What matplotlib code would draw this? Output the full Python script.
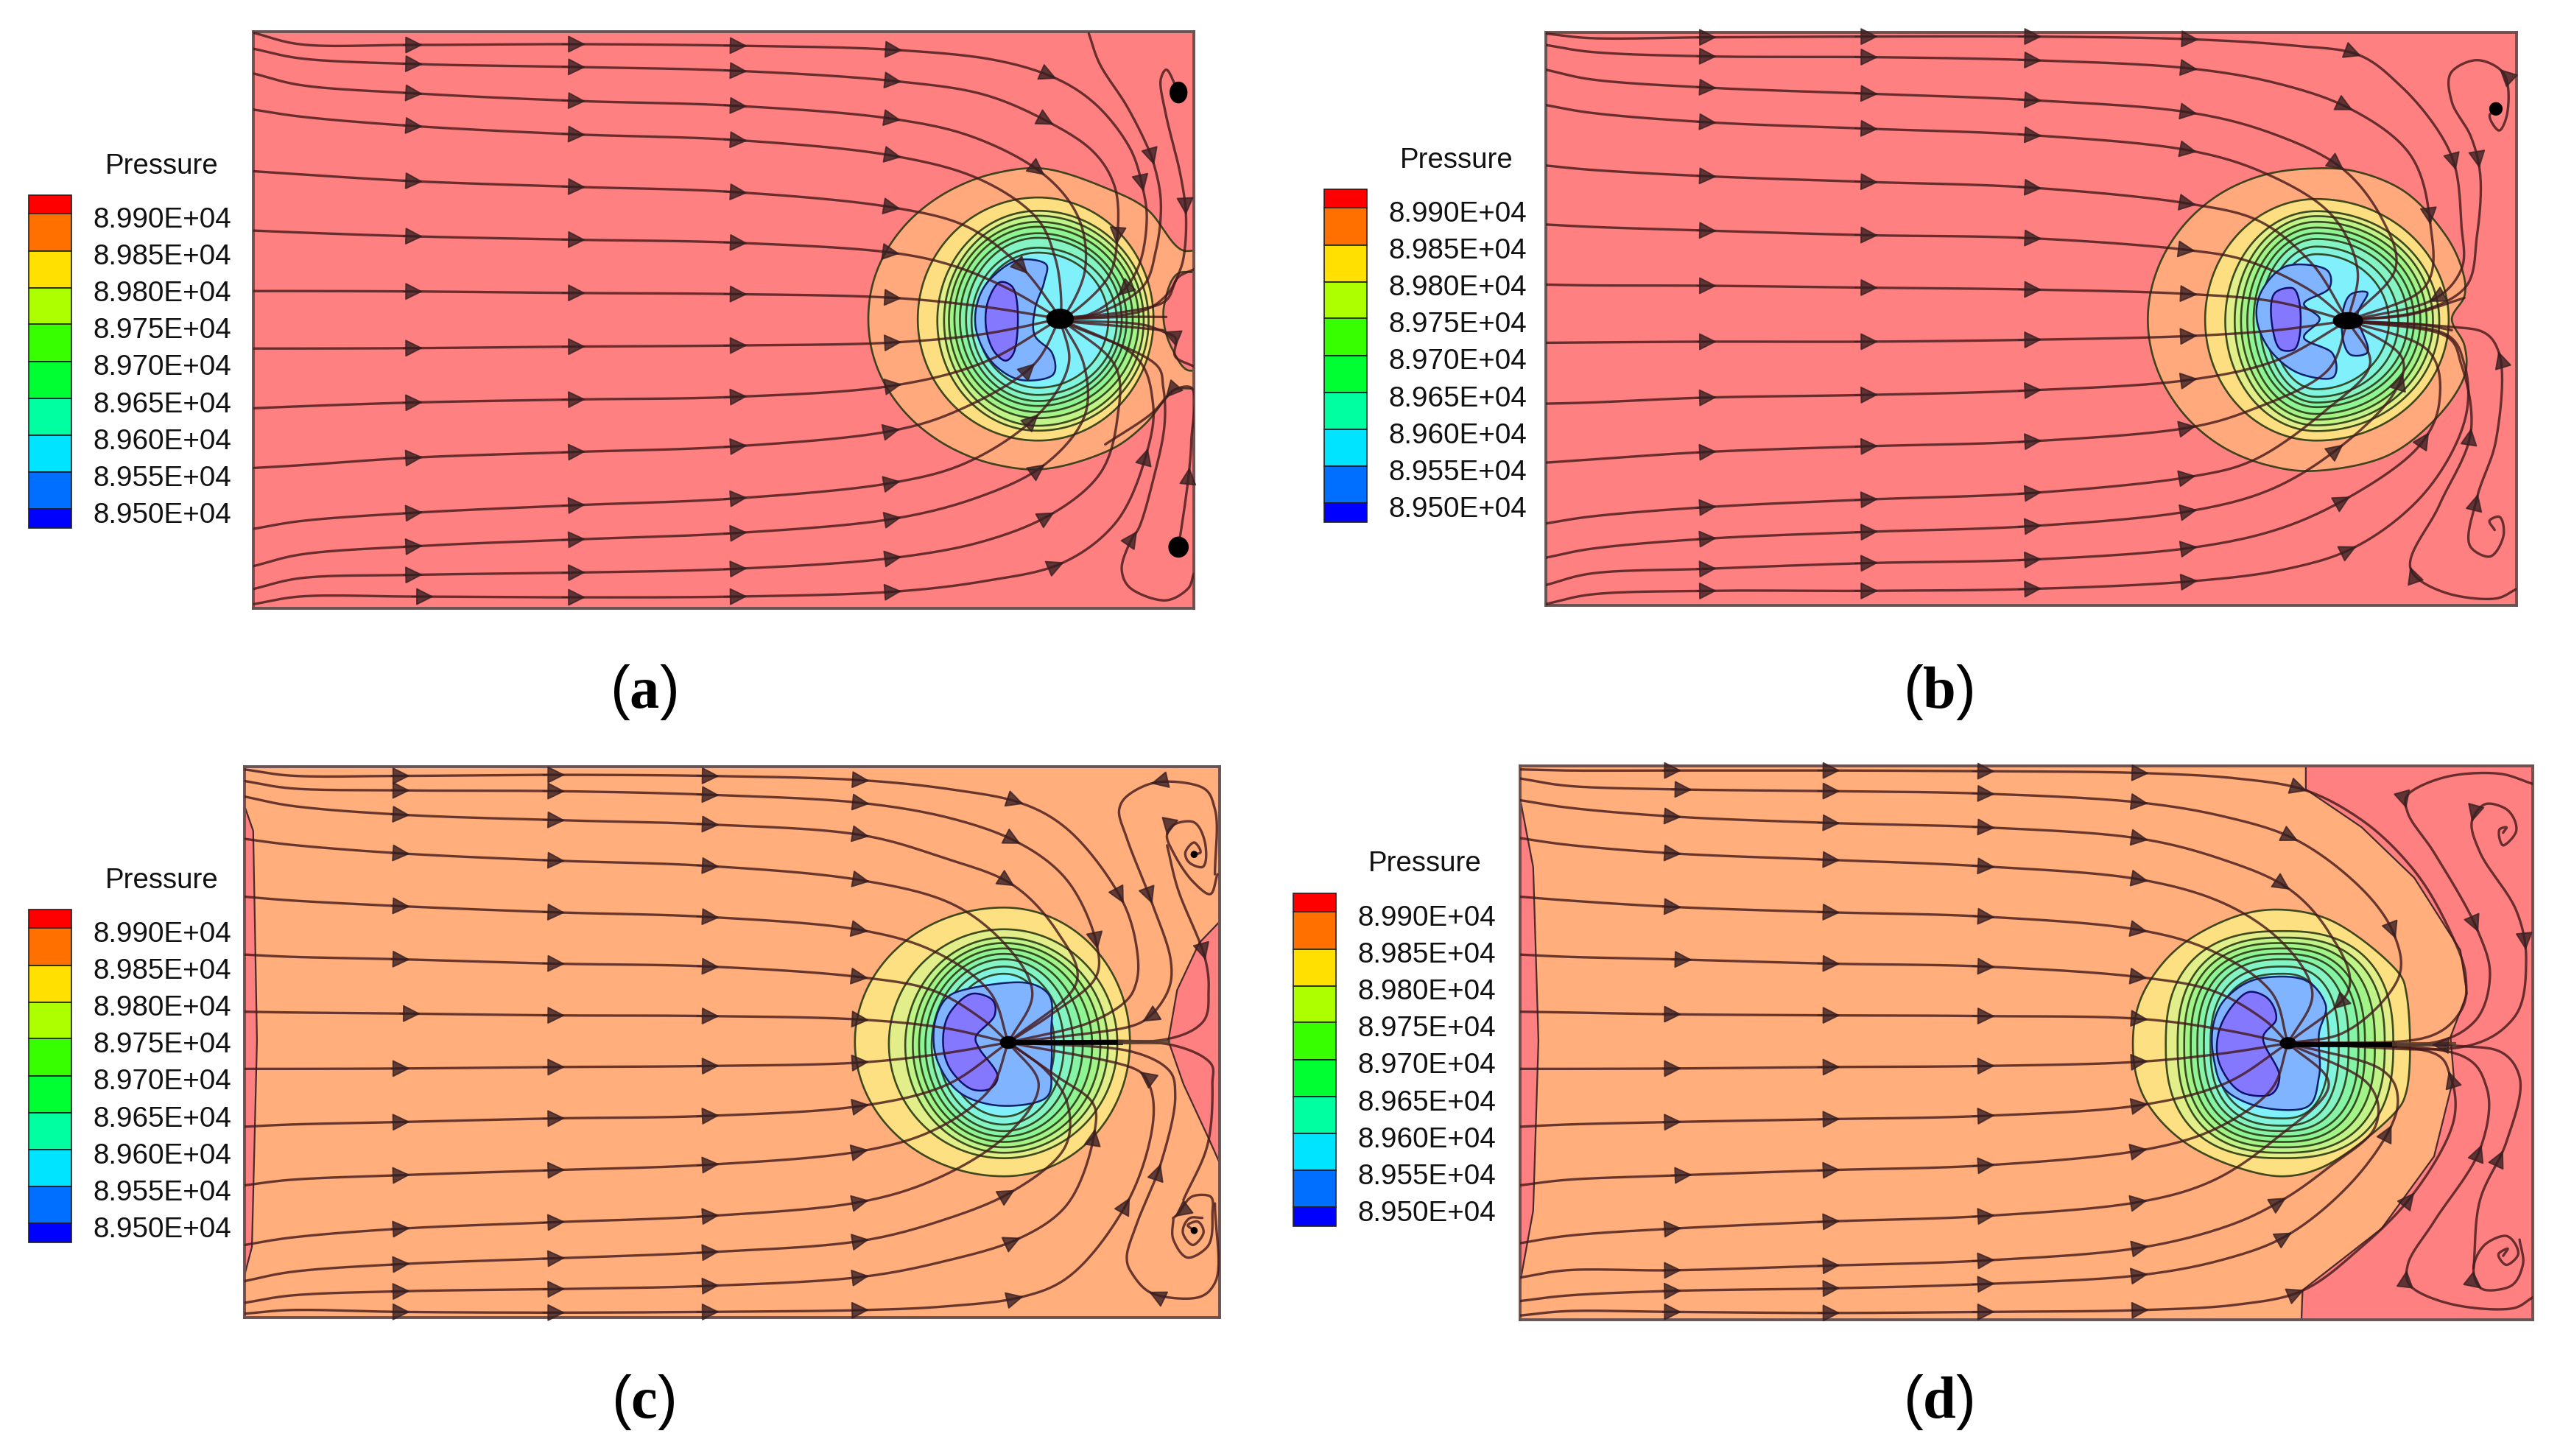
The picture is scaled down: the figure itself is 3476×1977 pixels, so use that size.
#!/usr/bin/env python
import numpy as np
import matplotlib
matplotlib.use('Agg')
import matplotlib.pyplot as plt

W, H, DPI = 3476, 1977, 200
plt.rcParams['font.family'] = ['Liberation Sans', 'DejaVu Sans']
plt.rcParams['mathtext.fontset'] = 'custom'
plt.rcParams['mathtext.rm'] = 'Liberation Serif'
plt.rcParams['mathtext.bf'] = 'Liberation Serif:bold'

# legend
legend_labels = ['8.990E+04', '8.985E+04', '8.980E+04', '8.975E+04', '8.970E+04',
                 '8.965E+04', '8.960E+04', '8.955E+04', '8.950E+04']
legend_colors = ['#FF0000', '#FF7000', '#FFE000', '#ADFF00', '#38FF00',
                 '#00FF32', '#00FFA0', '#00E4FF', '#006EFF', '#0000FF']
legend_edges = [0, 25, 76, 126, 175, 226, 276, 326, 376, 426, 452]

# field colours
pink = '#FF8080'
orange = '#FFAE7C'
yellow = '#FDE682'
blue = '#80B4FF'
violet = '#8478FF'
ring_colors = ['#DFF08A', '#BDF58A', '#9FF58A', '#8CF596', '#86F5AA',
               '#84F5C8', '#80F5E0', '#80F0FF']

# ---- panel a ----
a_cols = [5, 80, 265, 530, 795, 1055]
a_rows = [[28, 58, 60, 58, 62, 73], [70, 95, 110, 118, 128, 155], [135, 165, 187, 207, 220, 255],
          [230, 248, 273, 295, 310, 352], [392, 400, 418, 433, 447, 488], [548, 553, 563, 572, 580, 607],
          [707, 707, 708, 712, 715, 725], [858, 858, 857, 853, 850, 842], [1015, 1010, 1000, 992, 985, 955],
          [1172, 1165, 1145, 1130, 1115, 1073], [1332, 1312, 1290, 1270, 1252, 1210],
          [1430, 1400, 1378, 1360, 1343, 1305], [1490, 1462, 1453, 1447, 1437, 1408],
          [1530, 1510, 1510, 1512, 1510, 1497]]
a_tails = [[(1220, 100), (1315, 145), (1380, 210), (1440, 330), (1462, 440), (1468, 520), (1455, 640), (1427, 710), (1371, 770)],
           [(1200, 190), (1310, 265), (1380, 340), (1415, 430), (1420, 560), (1405, 670), (1345, 765)],
           [(1180, 300), (1295, 395), (1355, 510), (1367, 650), (1338, 760)],
           [(1190, 410), (1285, 510), (1318, 620), (1328, 740)],
           [(1170, 535), (1260, 640), (1310, 740)],
           [(1150, 640), (1240, 700)],
           [(1200, 748)],
           [(1200, 820)],
           [(1200, 895)],
           [(1160, 1020), (1280, 905)],
           [(1170, 1160), (1285, 1040), (1340, 900)],
           [(1190, 1250), (1295, 1170), (1365, 1040), (1365, 900)],
           [(1200, 1365), (1310, 1295), (1390, 1190), (1420, 1040), (1415, 900)],
           [(1200, 1470), (1325, 1425), (1415, 1320), (1470, 1120), (1478, 1000), (1450, 880)]]
a_extra_lines = [[(1373, 30), (1391, 110), (1435, 220), (1467, 320), (1479, 370), (1491, 470), (1483, 600), (1459, 700), (1379, 770), (1326, 780)],
                 [(1520, 185), (1500, 125), (1491, 150), (1499, 240), (1523, 400), (1532, 500), (1530, 600), (1523, 650), (1499, 720), (1459, 760), (1326, 782)],
                 [(1545, 1450), (1535, 1490), (1499, 1520), (1443, 1490), (1427, 1440), (1443, 1360), (1455, 1330), (1479, 1200), (1497, 1060), (1495, 960), (1483, 900), (1326, 785)],
                 [(1520, 1380), (1532, 1250), (1538, 1170), (1541, 1100), (1540, 960), (1515, 965), (1475, 1030), (1400, 1110)],
                 [(1545, 905), (1515, 880), (1515, 830), (1497, 815), (1460, 795), (1326, 785)],
                 [(1326, 778), (1430, 762), (1497, 735), (1520, 670), (1545, 650)],
                 [(1326, 782), (1430, 775), (1500, 775)],
                 [(1326, 786), (1430, 800), (1495, 810)]]
a_arrows = [(1315, 145), (1310, 265), (1295, 395), (1415, 580), (1462, 440), (1479, 370), (1530, 500),
            (1285, 650), (1285, 905), (1285, 1040), (1295, 1170), (1310, 1295), (1325, 1425), (1460, 1130),
            (1452, 1340), (1532, 1175), (1500, 985), (1425, 715), (1498, 815)]
a_orange = [(1012, 780), (1021, 678), (1049, 582), (1093, 501), (1151, 438), (1218, 398), (1298, 385), (1407, 440), (1467, 490),
            (1527, 600), (1560, 600), (1560, 655), (1520, 660), (1497, 740), (1497, 800), (1510, 860),
            (1535, 915), (1560, 915), (1560, 960), (1515, 965), (1499, 990), (1463, 1060), (1407, 1125),
            (1298, 1175), (1218, 1162), (1151, 1122), (1093, 1059), (1049, 978), (1021, 882)]
a_rings = [[1093, 1479, 461, 1100], [1125, 1471, 496, 1074], [1136, 1463, 509, 1061], [1144, 1455, 525, 1041],
           [1153, 1445, 538, 1025], [1162, 1435, 555, 1009], [1172, 1427, 567, 996], [1181, 1419, 593, 980],
           [1190, 1405, 606, 961]]
a_blue = [[(1259, 625), (1302, 635), (1300, 683), (1285, 754), (1285, 825), (1313, 870), (1313, 929),
           (1263, 941), (1220, 903), (1190, 819), (1190, 741), (1211, 677)]]
a_violet = [(1229, 683), (1248, 696), (1250, 870), (1237, 890), (1220, 870), (1205, 806), (1209, 729)]
a_blobs = [(1520, 185, 26, 52), (1520, 1380, 30, 50), (1326, 780, 42, 48)]

# ---- panel b ----
b_cols = [10, 80, 265, 520, 780, 1035]
b_rows = [[30, 42, 40, 38, 38, 45], [60, 78, 90, 92, 100, 122], [125, 150, 172, 188, 205, 238],
          [218, 238, 263, 280, 297, 338], [377, 388, 405, 420, 435, 478], [532, 538, 548, 560, 568, 600],
          [690, 692, 693, 698, 703, 715], [843, 842, 840, 840, 835, 825], [1003, 1000, 987, 980, 968, 940],
          [1158, 1150, 1130, 1115, 1102, 1065], [1318, 1300, 1275, 1255, 1238, 1195],
          [1408, 1385, 1358, 1340, 1325, 1285], [1480, 1450, 1437, 1422, 1413, 1382],
          [1530, 1505, 1495, 1495, 1490, 1470]]
b_tails = [[(1200, 62), (1300, 85), (1370, 170), (1430, 290), (1455, 380), (1465, 530), (1465, 650), (1420, 730)],
           [(1170, 160), (1285, 225), (1380, 340), (1415, 520), (1405, 700)],
           [(1160, 290), (1272, 380), (1340, 520), (1360, 650)],
           [(1150, 395), (1255, 500), (1300, 650)],
           [(1140, 520), (1225, 630)],
           [(1120, 625), (1220, 700)],
           [(1170, 735)],
           [(1170, 810)],
           [(1170, 890)],
           [(1130, 1020), (1250, 920)],
           [(1130, 1155), (1250, 1020), (1320, 900)],
           [(1160, 1230), (1270, 1120), (1360, 970), (1370, 880)],
           [(1170, 1335), (1280, 1255), (1395, 1120), (1430, 1000), (1410, 860)],
           [(1180, 1440), (1290, 1385), (1400, 1250), (1470, 1050), (1470, 900), (1440, 820)]]
b_extra_lines = [[(1522, 228), (1510, 245), (1525, 285), (1538, 240), (1530, 130), (1490, 100), (1450, 130), (1450, 210),
                  (1480, 300), (1495, 400), (1490, 560), (1470, 700), (1400, 760), (1285, 785)],
                 [(1518, 1335), (1510, 1310), (1525, 1300), (1532, 1350), (1510, 1405), (1480, 1380), (1490, 1250),
                  (1520, 1100), (1525, 870), (1500, 815), (1440, 800), (1285, 785)],
                 [(1553, 1490), (1520, 1515), (1440, 1500), (1385, 1440), (1430, 1270), (1480, 1080), (1465, 900), (1440, 825), (1285, 785)],
                 [(1285, 782), (1380, 770), (1470, 725)],
                 [(1285, 788), (1400, 795), (1450, 810)]]
b_arrows = [(1300, 85), (1285, 225), (1272, 380), (1455, 380), (1490, 380), (1415, 520), (1410, 720), (1530, 125),
            (1525, 870), (1430, 1090), (1480, 1080), (1495, 1250), (1365, 930), (1270, 1120), (1280, 1255),
            (1290, 1385), (1385, 1440)]
b_orange = [(967, 782), (976, 680), (1002, 584), (1043, 501), (1096, 438), (1158, 399), (1225, 385), (1290, 390), (1370, 440), (1440, 560),
            (1468, 660), (1470, 720), (1450, 780), (1470, 850), (1470, 930), (1420, 1050), (1340, 1145),
            (1225, 1180), (1158, 1165), (1096, 1126), (1043, 1063), (1002, 980), (976, 884)]
b_rings = [[1058, 1445, 465, 1100], [1090, 1430, 497, 1075], [1105, 1420, 510, 1060], [1115, 1410, 525, 1045],
           [1125, 1400, 540, 1030], [1135, 1390, 555, 1012], [1145, 1380, 570, 1000], [1155, 1365, 590, 985],
           [1165, 1350, 610, 965]]
b_blue = [[(1190, 640), (1250, 650), (1255, 700), (1215, 740), (1240, 780), (1215, 830), (1260, 870),
           (1260, 935), (1210, 925), (1165, 870), (1140, 780), (1150, 700)],
          [(1290, 715), (1315, 710), (1300, 770), (1315, 870), (1290, 875), (1275, 800)]]
b_violet = [(1170, 710), (1198, 700), (1200, 860), (1180, 862), (1167, 820)]
b_blobs = [(1520, 228, 18, 30), (1285, 785, 45, 40)]

# ---- panel c ----
c_cols = [8, 80, 255, 500, 745, 990]
c_rows = [[30, 47, 48, 45, 48, 60], [62, 82, 88, 90, 100, 123], [105, 130, 155, 170, 182, 212],
          [222, 238, 262, 282, 297, 337], [382, 392, 408, 425, 438, 475], [542, 548, 555, 567, 575, 605],
          [700, 702, 705, 710, 712, 722], [858, 858, 857, 853, 850, 840], [1018, 1012, 1005, 995, 988, 960],
          [1180, 1165, 1152, 1138, 1123, 1085], [1345, 1325, 1300, 1282, 1265, 1225],
          [1445, 1420, 1398, 1382, 1365, 1333], [1505, 1485, 1473, 1467, 1458, 1433],
          [1535, 1525, 1530, 1532, 1530, 1525]]
c_tails = [[(1130, 85), (1240, 122), (1312, 190), (1402, 390), (1427, 540), (1425, 620), (1409, 670), (1351, 730)],
           [(1130, 165), (1235, 230), (1312, 330), (1363, 520), (1359, 610), (1296, 700)],
           [(1120, 275), (1225, 345), (1300, 480), (1330, 620)],
           [(1130, 400), (1220, 520), (1260, 650)],
           [(1100, 530), (1190, 640)],
           [(1100, 640), (1180, 720)],
           [(1120, 745)],
           [(1120, 815)],
           [(1120, 905)],
           [(1100, 1030), (1190, 920)],
           [(1110, 1160), (1220, 1040), (1270, 900)],
           [(1120, 1275), (1225, 1200), (1310, 1080), (1315, 950), (1280, 860)],
           [(1120, 1390), (1235, 1330), (1312, 1240), (1359, 1030), (1355, 950), (1300, 880)],
           [(1120, 1515), (1240, 1490), (1312, 1440), (1410, 1230), (1452, 1000), (1445, 900), (1425, 860)]]
c_extra_lines = [[(1550, 320), (1550, 140), (1530, 80), (1460, 65), (1413, 100), (1398, 140), (1410, 220), (1448, 390),
                  (1480, 560), (1476, 640), (1445, 715), (1417, 740), (1300, 770), (1222, 785)],
                 [(1517, 265), (1527, 260), (1517, 232), (1503, 260), (1511, 290), (1530, 300), (1534, 230), (1515, 175),
                  (1488, 180), (1474, 210), (1484, 260), (1515, 340), (1542, 375), (1554, 320)],
                 [(1474, 240), (1491, 360), (1534, 550), (1540, 640), (1530, 730), (1476, 775), (1222, 785)],
                 [(1517, 1305), (1507, 1290), (1522, 1280), (1532, 1310), (1515, 1345), (1499, 1310), (1511, 1270), (1530, 1270)],
                 [(1484, 1270), (1484, 1330), (1507, 1380), (1538, 1350), (1546, 1260), (1542, 1210), (1515, 1210), (1491, 1260), (1484, 1270)],
                 [(1500, 1220), (1538, 1070), (1546, 900), (1542, 840), (1476, 790), (1222, 785)],
                 [(1550, 1230), (1550, 1450), (1523, 1490), (1452, 1480), (1417, 1420), (1410, 1380), (1425, 1290), (1464, 1120),
                  (1487, 930), (1476, 860), (1417, 810), (1222, 785)]]
c_arrows = [(1240, 122), (1235, 230), (1225, 345), (1405, 390), (1448, 385), (1365, 520), (1474, 210), (1535, 550),
            (1450, 65), (1435, 725), (1430, 870), (1360, 1030), (1225, 1200), (1235, 1330), (1240, 1490), (1410, 1230),
            (1465, 1130), (1490, 1270), (1445, 1480)]
c_red = [[(-10, 130), (8, 130), (22, 200), (28, 780), (20, 1350), (8, 1430), (-10, 1430)],
         [(1580, 450), (1558, 450), (1525, 510), (1490, 640), (1476, 780), (1500, 900), (1540, 1050), (1558, 1120), (1580, 1120)]]
c_rings = [[978, 1415, 412, 1155], [1032, 1395, 472, 1105], [1058, 1380, 495, 1090], [1070, 1368, 510, 1075],
           [1080, 1355, 525, 1060], [1090, 1340, 540, 1045], [1100, 1325, 555, 1030], [1110, 1310, 575, 1012],
           [1122, 1295, 595, 990]]
c_blue = [[(1150, 640), (1250, 620), (1285, 650), (1290, 760), (1290, 850), (1280, 940), (1210, 960), (1150, 930),
           (1110, 840), (1105, 730), (1125, 660)]]
c_violet = [(1165, 650), (1195, 665), (1200, 710), (1170, 770), (1175, 800), (1205, 880), (1190, 915), (1165, 915),
            (1130, 860), (1118, 780), (1130, 700)]
c_blobs = [(1222, 785, 24, 30), (1517, 265, 8, 14), (1517, 1305, 8, 14)]
c_jet = [1222, 1400, 1476, 785]

# ---- panel d ----
d_cols = [10, 80, 240, 480, 715, 955]
d_rows = [[30, 33, 33, 33, 35, 40], [55, 75, 85, 90, 97, 122], [115, 135, 160, 178, 190, 222],
          [220, 238, 262, 280, 298, 335], [382, 392, 410, 425, 437, 475], [542, 548, 555, 567, 575, 605],
          [700, 702, 707, 710, 712, 720], [858, 858, 857, 853, 850, 838], [1018, 1012, 1005, 997, 988, 958],
          [1180, 1165, 1153, 1138, 1125, 1083], [1340, 1320, 1300, 1280, 1265, 1225],
          [1435, 1415, 1415, 1402, 1388, 1352], [1500, 1485, 1472, 1465, 1453, 1428],
          [1540, 1528, 1530, 1533, 1530, 1525]]
d_tails = [[(1100, 55), (1200, 85), (1290, 170), (1370, 310), (1425, 480), (1448, 600), (1440, 700), (1390, 770)],
           [(1080, 160), (1185, 220), (1290, 360), (1340, 490), (1345, 610), (1260, 760)],
           [(1080, 280), (1175, 355), (1240, 480), (1270, 640)],
           [(1080, 400), (1170, 510), (1215, 650)],
           [(1060, 530), (1150, 640)],
           [(1060, 640), (1140, 720)],
           [(1080, 750)],
           [(1080, 815)],
           [(1080, 900)],
           [(1060, 1030), (1150, 920)],
           [(1060, 1170), (1160, 1050), (1240, 900)],
           [(1090, 1290), (1170, 1220), (1240, 1130), (1310, 1020), (1300, 900)],
           [(1080, 1385), (1175, 1320), (1290, 1140), (1345, 950), (1320, 860)],
           [(1100, 1510), (1195, 1475), (1290, 1350), (1370, 1200), (1430, 1000), (1425, 880), (1400, 815)]]
d_extra_lines = [[(1550, 70), (1500, 42), (1420, 50), (1360, 100), (1360, 150), (1400, 260), (1465, 470), (1485, 600), (1460, 730), (1400, 785), (1178, 787)],
                 [(1505, 205), (1510, 190), (1500, 195), (1505, 240), (1525, 200), (1510, 140), (1480, 125), (1458, 170), (1470, 260),
                  (1525, 420), (1540, 560), (1520, 720), (1450, 795), (1178, 787)],
                 [(1505, 1375), (1512, 1355), (1498, 1370), (1510, 1400), (1528, 1370), (1510, 1320), (1480, 1340), (1460, 1410),
                  (1475, 1468), (1515, 1460), (1535, 1400), (1530, 1330)],
                 [(1460, 1410), (1470, 1220), (1510, 1060), (1530, 880), (1500, 810), (1440, 795), (1178, 787)],
                 [(1550, 1490), (1520, 1520), (1430, 1510), (1365, 1460), (1360, 1400), (1400, 1280), (1470, 1080), (1480, 910), (1440, 820), (1178, 787)]]
d_arrows = [(1200, 85), (1185, 220), (1175, 355), (1340, 490), (1360, 135), (1465, 470), (1535, 520), (1465, 170),
            (1240, 680), (1320, 1030), (1175, 1220), (1175, 1320), (1195, 1475), (1360, 1215), (1470, 1080), (1530, 1100),
            (1470, 1465), (1365, 1420), (1410, 790), (1410, 870)]
d_red = [[(-10, 110), (10, 110), (30, 300), (38, 780), (30, 1250), (10, 1450), (-10, 1450)],
         [(1205, 0), (1205, 85), (1290, 190), (1370, 330), (1440, 530), (1450, 650), (1425, 770), (1430, 880), (1400, 1100),
          (1320, 1300), (1200, 1470), (1198, 1570), (1570, 1570), (1570, 0)]]
d_yellow = [(942, 785), (960, 640), (1020, 510), (1110, 430), (1170, 418), (1240, 445), (1345, 590), (1358, 650), (1358, 920),
            (1340, 980), (1230, 1130), (1170, 1155), (1100, 1130), (1020, 1060), (960, 940)]
d_rings = [[992, 1338, 477, 1105], [1010, 1325, 495, 1090], [1020, 1310, 510, 1075], [1030, 1295, 525, 1060],
           [1040, 1285, 540, 1045], [1050, 1270, 555, 1030], [1060, 1255, 575, 1015], [1068, 1240, 595, 995]]
d_blue = [[(1130, 610), (1200, 610), (1235, 680), (1225, 760), (1225, 880), (1205, 965), (1140, 965), (1085, 920),
           (1065, 830), (1065, 730), (1085, 660)]]
d_violet = [(1120, 645), (1145, 660), (1160, 720), (1140, 770), (1165, 880), (1150, 930), (1110, 925), (1075, 850),
            (1072, 760), (1095, 680)]
d_blobs = [(1178, 787, 22, 28)]
d_jet = [1178, 1340, 1430, 790]


def smooth(pts, closed=False, steps=14):
    # centripetal catmull-rom through the points
    p = np.array(pts, dtype=float)
    if closed:
        p = np.vstack([p[-1], p, p[0], p[1]])
    else:
        p = np.vstack([2 * p[0] - p[1], p, 2 * p[-1] - p[-2]])
    out = []
    for i in range(1, len(p) - 2):
        p0, p1, p2, p3 = p[i - 1], p[i], p[i + 1], p[i + 2]
        t0 = 0.0
        t1 = t0 + max(np.hypot(*(p1 - p0)), 1e-6) ** 0.5
        t2 = t1 + max(np.hypot(*(p2 - p1)), 1e-6) ** 0.5
        t3 = t2 + max(np.hypot(*(p3 - p2)), 1e-6) ** 0.5
        t = np.linspace(t1, t2, steps, endpoint=False)[:, None]
        a1 = (t1 - t) / (t1 - t0) * p0 + (t - t0) / (t1 - t0) * p1
        a2 = (t2 - t) / (t2 - t1) * p1 + (t - t1) / (t2 - t1) * p2
        a3 = (t3 - t) / (t3 - t2) * p2 + (t - t2) / (t3 - t2) * p3
        b1 = (t2 - t) / (t2 - t0) * a1 + (t - t0) / (t2 - t0) * a2
        b2 = (t3 - t) / (t3 - t1) * a2 + (t - t1) / (t3 - t1) * a3
        out.append((t2 - t) / (t2 - t1) * b1 + (t - t1) / (t2 - t1) * b2)
    out = np.vstack(out)
    if not closed:
        out = np.vstack([out, p[-2]])
    return out


def ring_path(ring, cu, n):
    left, right, top, bottom = ring
    cv = (top + bottom) / 2
    th = np.linspace(0, 2 * np.pi, 181)
    c, s = np.cos(th), np.sin(th)
    x = cu + np.where(c > 0, right - cu, cu - left) * np.sign(c) * np.abs(c) ** (2 / n)
    y = cv + (bottom - top) / 2 * np.sign(s) * np.abs(s) ** (2 / n)
    return x, y


def draw_panel(crop, frame, bg, cols, rows, tails, sink, extra_lines, arrows, cu, n, rings, blue_polys, violet_poly,
               blobs, outer=None, outer_color=orange, red=None, jet=None, first_ring_color=yellow):
    cx, cy, cw, ch = crop
    u0, u1, v0, v1 = frame
    x0 = cx + u0 / 1568 * cw
    x1 = cx + u1 / 1568 * cw
    y0 = cy + v0 / 1568 * ch
    y1 = cy + v1 / 1568 * ch
    ax = fig.add_axes([x0 / W, 1 - y1 / H, (x1 - x0) / W, (y1 - y0) / H])
    ax.set_xlim(u0, u1)
    ax.set_ylim(v1, v0)
    ax.set_facecolor(bg)
    ax.set_xticks([])
    ax.set_yticks([])
    for sp in ax.spines.values():
        sp.set_color('#6a5252')
        sp.set_linewidth(1.4)
    edge = dict(edgecolor='#2a3a14', linewidth=0.95, alpha=0.9)
    if red:
        for poly in red:
            xy = np.array(poly)
            ax.fill(xy[:, 0], xy[:, 1], facecolor=pink, edgecolor='#4a2a2a', linewidth=0.8, zorder=1)
    if outer:
        xy = smooth(outer, closed=True)
        ax.fill(xy[:, 0], xy[:, 1], facecolor=outer_color, zorder=2, **edge)
    order = ring_colors if len(rings) == 8 else [first_ring_color] + ring_colors
    for ring, col in zip(rings, order):
        x, y = ring_path(ring, cu, n)
        ax.fill(x, y, facecolor=col, zorder=3, **edge)
    for poly in blue_polys:
        xy = smooth(poly, closed=True)
        ax.fill(xy[:, 0], xy[:, 1], facecolor=blue, zorder=4, edgecolor='#10206a', linewidth=0.9)
    xy = smooth(violet_poly, closed=True)
    ax.fill(xy[:, 0], xy[:, 1], facecolor=violet, zorder=5, edgecolor='#10106a', linewidth=0.9)

    curves = []
    for row, tail in zip(rows, tails):
        pts = list(zip(cols, row)) + tail + [sink]
        curves.append(smooth(pts))
    for line in extra_lines:
        curves.append(smooth(line))
    for xy in curves:
        ax.plot(xy[:, 0], xy[:, 1], color='#44181a', lw=1.2, alpha=0.8, zorder=6, solid_capstyle='round')

    if jet:
        ax.plot([jet[0], jet[1]], [jet[3], jet[3]], color='black', lw=2.4, zorder=7)
        ax.plot([jet[1], jet[2]], [jet[3], jet[3]], color='#5a4030', lw=2.2, alpha=0.85, zorder=7)

    heads = []
    for xy in curves[:len(rows)]:
        for col in cols[2:]:
            i = int(np.argmax(xy[:, 0] >= col))
            heads.append((xy, max(i, 2)))
    for ap in arrows:
        best = None
        for xy in curves:
            d = np.hypot(xy[:, 0] - ap[0], xy[:, 1] - ap[1])
            i = int(np.argmin(d))
            if best is None or d[i] < best[0]:
                best = (d[i], xy, max(i, 2))
        heads.append((best[1], best[2]))
    for xy, i in heads:
        j = min(i + 1, len(xy) - 1)
        ax.annotate('', xy=xy[j], xytext=xy[max(j - 2, 0)],
                    arrowprops=dict(arrowstyle='-|>,head_length=1.0,head_width=0.5', color='#3a2022', alpha=0.8,
                                    mutation_scale=7.5, lw=0.7, shrinkA=0, shrinkB=0), zorder=8)
    for bu, bv, bw, bh in blobs:
        t = np.linspace(0, 2 * np.pi, 40)
        ax.fill(bu + bw / 2 * np.cos(t), bv + bh / 2 * np.sin(t), color='black', zorder=9)
    return ax


def draw_legend(dx, dy, tx, ty):
    ov.bar(39 + dx, np.diff(legend_edges), width=58, bottom=265 + dy + np.array(legend_edges[:-1]),
           align='edge', color=legend_colors, edgecolor='#202020', linewidth=0.6)
    for k, lab in enumerate(legend_labels):
        ov.text(126 + dx, 299 + dy + 50.1 * k, lab, fontsize=13.9, ha='left', va='center', color='#111111')
    ov.text(tx, ty + 3, 'Pressure', fontsize=13.8, ha='center', va='center', color='#111111')


fig = plt.figure(figsize=(W / DPI, H / DPI), dpi=DPI, facecolor='white')
ov = fig.add_axes([0, 0, 1, 1], zorder=10)
ov.set_xlim(0, W)
ov.set_ylim(H, 0)
ov.axis('off')

draw_panel((340, 30, 1300, 810), (5, 1545, 25, 1540), pink, a_cols, a_rows, a_tails, (1326, 780), a_extra_lines,
           a_arrows, 1290, 2.0, a_rings, a_blue, a_violet, a_blobs, outer=a_orange)
draw_panel((2090, 30, 1340, 810), (10, 1553, 28, 1533), pink, b_cols, b_rows, b_tails, (1285, 785), b_extra_lines,
           b_arrows, 1235, 2.0, b_rings, b_blue, b_violet, b_blobs, outer=b_orange)
draw_panel((325, 1030, 1340, 770), (8, 1558, 22, 1545), orange, c_cols, c_rows, c_tails, (1222, 785), c_extra_lines,
           c_arrows, 1215, 2.0, c_rings, c_blue, c_violet, c_blobs, red=c_red, jet=c_jet)
draw_panel((2055, 1030, 1400, 770), (10, 1550, 20, 1552), orange, d_cols, d_rows, d_tails, (1178, 787), d_extra_lines,
           d_arrows, 1170, 2.5, d_rings, d_blue, d_violet, d_blobs, outer=d_yellow, outer_color=yellow, red=d_red, jet=d_jet)

draw_legend(0, 0, 220, 223)
draw_legend(1759, -8, 1978, 215)
draw_legend(0, 970, 220, 1193)
draw_legend(1717, 948, 1935, 1170)

cap_pos = [(873, 940), (2632, 940), (873, 1904), (2632, 1904)]
cap_txt = ['a', 'b', 'c', 'd']
for (px, py), t in zip(cap_pos, cap_txt):
    ov.text(px, py, '($\\mathbf{' + t + '}$)', fontsize=29, ha='center', va='center', color='black')

fig.savefig('out.png', dpi=DPI)
plt.close()
